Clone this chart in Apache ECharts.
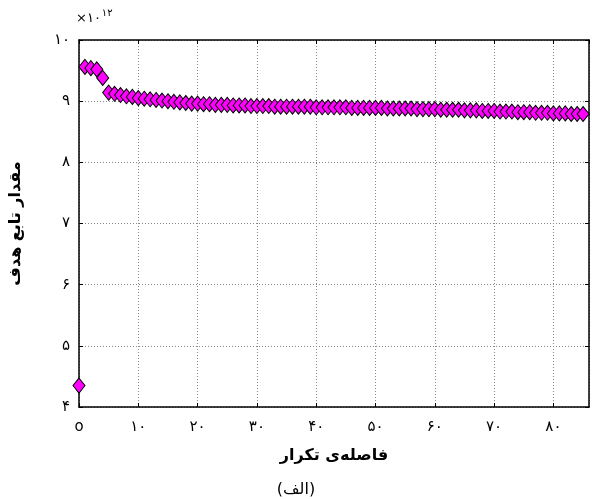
<!DOCTYPE html>
<html>
<head>
<meta charset="utf-8">
<script src="https://cdn.jsdelivr.net/npm/echarts@6/dist/echarts.min.js"></script>
<style>html,body{margin:0;padding:0;background:#fff}#c{width:592px;height:499px}</style>
</head>
<body>
<div id="c"></div>
<script>
var objectiveValues = [
  4.35, 9.56, 9.54, 9.52, 9.38, 9.14, 9.12, 9.10, 9.08, 9.07,
  9.05, 9.04, 9.03, 9.02, 9.01, 9.00, 8.99, 8.98, 8.97, 8.96,
  8.96, 8.95, 8.95, 8.94, 8.94, 8.94, 8.93, 8.93, 8.93, 8.92,
  8.92, 8.92, 8.92, 8.91, 8.91, 8.91, 8.91, 8.91, 8.91, 8.91,
  8.90, 8.90, 8.90, 8.90, 8.90, 8.90, 8.89, 8.89, 8.89, 8.89,
  8.89, 8.89, 8.88, 8.88, 8.88, 8.88, 8.88, 8.87, 8.87, 8.87,
  8.87, 8.86, 8.86, 8.86, 8.86, 8.85, 8.85, 8.85, 8.84, 8.84,
  8.84, 8.83, 8.83, 8.83, 8.82, 8.82, 8.82, 8.81, 8.81, 8.81,
  8.80, 8.80, 8.80, 8.79, 8.79, 8.79
];
var xTickLabels = {0:'o',10:'۱۰',20:'۲۰',30:'۳۰',40:'۴۰',50:'۵۰',60:'۶۰',70:'۷۰',80:'۸۰'};
var yTickLabels = {4:'۴',5:'۵',6:'۶',7:'۷',8:'۸',9:'۹',10:'۱۰'};
var xTitle = 'فاصله‌ی تکرار';
var yTitle = 'مقدار تابع هدف';
var caption = '(الف)';

var points = objectiveValues.map(function (v, i) { return [i, v]; });
var FONT = 'DejaVu Sans';

var chart = echarts.init(document.getElementById('c'), null, {renderer: 'canvas'});
var gridLine = {show: true, lineStyle: {color: '#888', type: [1, 2], width: 1}};
chart.setOption({
  animation: false,
  backgroundColor: '#fff',
  textStyle: {fontFamily: FONT},
  title: [{
    text: caption, left: 'center', top: 477,
    textStyle: {fontFamily: FONT, fontSize: 16, fontWeight: 'normal', color: '#000'}
  }],
  graphic: [{
    type: 'text', left: 76, top: 8,
    style: {
      text: '{a|×۱۰}{b|۱۲}',
      rich: {
        a: {fontFamily: FONT, fontSize: 13, fill: '#000', verticalAlign: 'bottom'},
        b: {fontFamily: FONT, fontSize: 10, fill: '#000', verticalAlign: 'top', padding: [0, 0, 7, 1]}
      }
    }
  }],
  grid: {left: 77, right: 3, top: 40, bottom: 92, containLabel: false},
  xAxis: [{
    type: 'value', min: 0, max: 86, interval: 10,
    name: xTitle, nameLocation: 'middle', nameGap: 41,
    nameTextStyle: {fontFamily: FONT, fontSize: 16, fontWeight: 'bold', color: '#000'},
    axisLine: {show: true, onZero: false, lineStyle: {color: '#000', width: 1.5}},
    axisTick: {show: true, inside: true, length: 4, lineStyle: {color: '#000'}},
    axisLabel: {margin: 13, fontSize: 15, color: '#000', fontFamily: FONT,
      showMaxLabel: false,
      formatter: function (v) { return xTickLabels[v] !== undefined ? xTickLabels[v] : ''; }},
    splitLine: gridLine
  }, {
    type: 'value', position: 'top', min: 0, max: 86, interval: 10,
    axisLine: {show: true, onZero: false, lineStyle: {color: '#000', width: 1.5}},
    axisTick: {show: true, inside: true, length: 4, lineStyle: {color: '#000'}},
    axisLabel: {show: false}, splitLine: {show: false}
  }],
  yAxis: [{
    type: 'value', min: 4, max: 10, interval: 1,
    name: yTitle, nameLocation: 'middle', nameGap: 55, nameRotate: 90,
    nameTextStyle: {fontFamily: FONT, fontSize: 16, fontWeight: 'bold', color: '#000'},
    axisLine: {show: true, onZero: false, lineStyle: {color: '#000', width: 1.5}},
    axisTick: {show: true, inside: true, length: 4, lineStyle: {color: '#000'}},
    axisLabel: {margin: 9, fontSize: 15, color: '#000', fontFamily: FONT,
      formatter: function (v) { return yTickLabels[v] !== undefined ? yTickLabels[v] : ''; }},
    splitLine: gridLine
  }, {
    type: 'value', position: 'right', min: 4, max: 10, interval: 1,
    axisLine: {show: true, onZero: false, lineStyle: {color: '#000', width: 1.5}},
    axisTick: {show: true, inside: true, length: 4, lineStyle: {color: '#000'}},
    axisLabel: {show: false}, splitLine: {show: false}
  }],
  series: [{
    type: 'scatter',
    data: points,
    symbol: 'diamond',
    symbolSize: [12, 15],
    itemStyle: {color: '#ff00ff', borderColor: '#000', borderWidth: 1, opacity: 1},
    emphasis: {disabled: true},
    clip: false
  }]
});
</script>
</body>
</html>
